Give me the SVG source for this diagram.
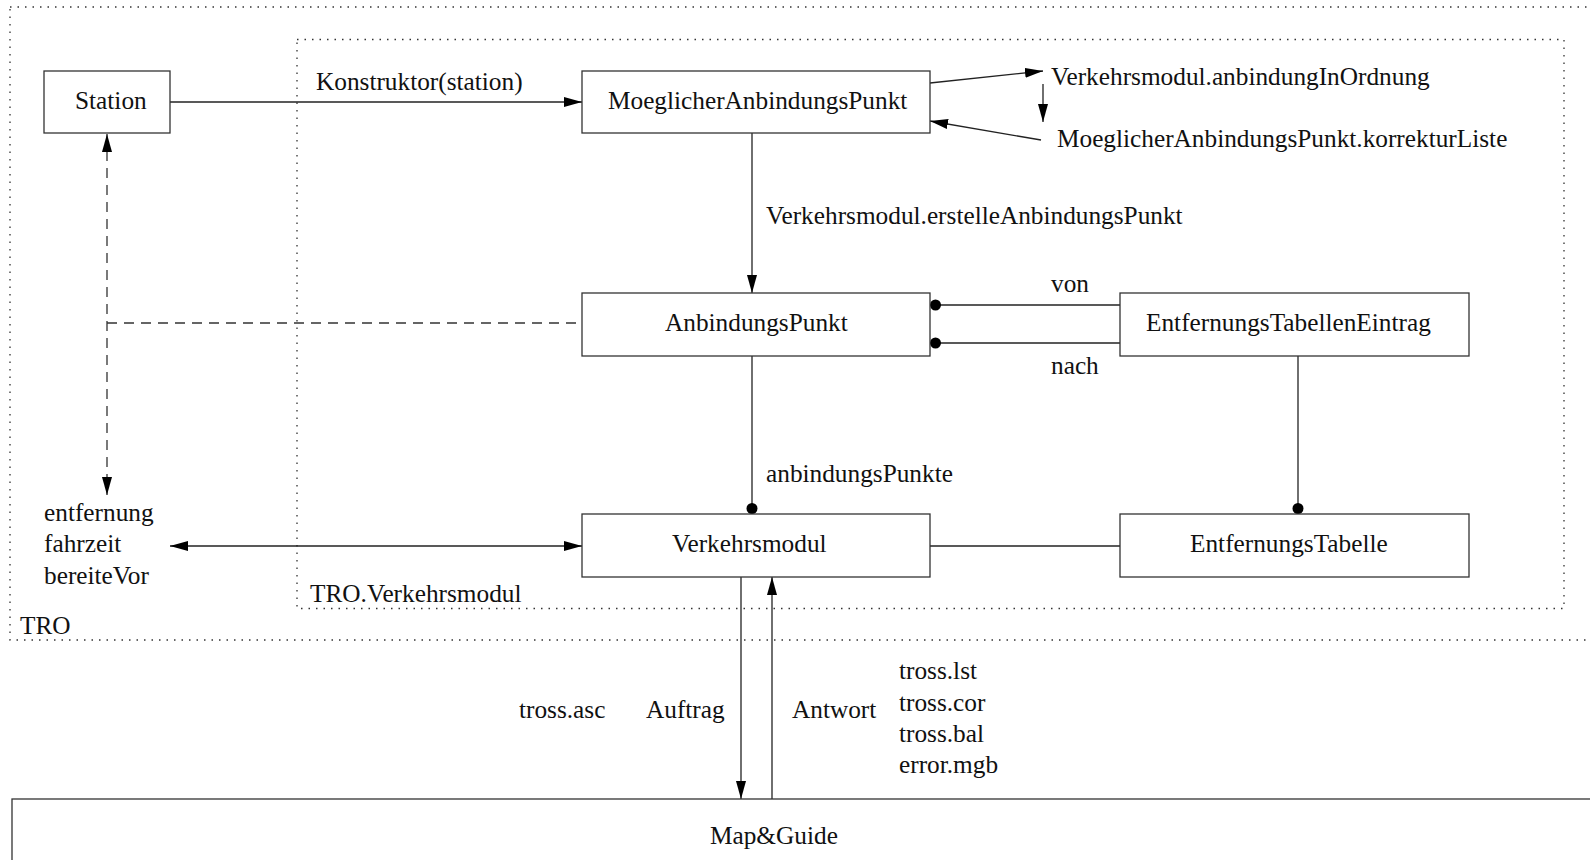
<svg xmlns="http://www.w3.org/2000/svg" width="1590" height="860" viewBox="0 0 1590 860">
<style>
text{font-family:"Liberation Serif","Times New Roman",serif;font-size:25.3px;fill:#111}
.box{fill:#fff;stroke:#333;stroke-width:1.3}
.frame{fill:none;stroke:#333;stroke-width:1.3;stroke-dasharray:1.5 6}
.ln{fill:none;stroke:#222;stroke-width:1.3}
.dash{fill:none;stroke:#333;stroke-width:1.3;stroke-dasharray:10 7}
</style>
<defs>
<marker id="arr" markerUnits="userSpaceOnUse" markerWidth="19" markerHeight="11" viewBox="0 0 19 11" refX="18" refY="5.5" orient="auto-start-reverse"><path d="M0,0.5 L18,5.5 L0,10.5 z" fill="#000"/></marker>
<marker id="dot" markerUnits="userSpaceOnUse" markerWidth="12" markerHeight="12" viewBox="0 0 12 12" refX="11.5" refY="6" orient="auto"><circle cx="6" cy="6" r="5.5" fill="#000"/></marker>
</defs>
<rect width="1590" height="860" fill="#fff"/>
<g id="frames">
<rect class="frame" x="10" y="7" width="1600" height="633"/>
<text x="20" y="634">TRO</text>
<rect class="frame" x="297" y="39.5" width="1267" height="569"/>
<text x="310" y="602">TRO.Verkehrsmodul</text>
</g>
<g id="connectors">
<line class="ln" x1="170" y1="102" x2="582" y2="102" marker-end="url(#arr)"/>
<text x="316" y="90">Konstruktor(station)</text>
<line class="ln" x1="930" y1="83" x2="1043" y2="71" marker-end="url(#arr)"/>
<line class="ln" x1="1043" y1="84" x2="1043" y2="122" marker-end="url(#arr)"/>
<line class="ln" x1="1041" y1="140" x2="930" y2="121" marker-end="url(#arr)"/>
<line class="ln" x1="752" y1="133" x2="752" y2="293" marker-end="url(#arr)"/>
<text x="766" y="224">Verkehrsmodul.erstelleAnbindungsPunkt</text>
<line class="ln" x1="752" y1="356" x2="752" y2="514" marker-end="url(#dot)"/>
<text x="766" y="482">anbindungsPunkte</text>
<line class="ln" x1="1120" y1="305" x2="930" y2="305" marker-end="url(#dot)"/>
<text x="1051" y="292">von</text>
<line class="ln" x1="1120" y1="343" x2="930" y2="343" marker-end="url(#dot)"/>
<text x="1051" y="374">nach</text>
<line class="ln" x1="1298" y1="356" x2="1298" y2="514" marker-end="url(#dot)"/>
<line class="ln" x1="930" y1="546" x2="1120" y2="546"/>
<line class="ln" x1="170" y1="546" x2="582" y2="546" marker-start="url(#arr)" marker-end="url(#arr)"/>
<line class="dash" x1="107" y1="134" x2="107" y2="495" marker-start="url(#arr)" marker-end="url(#arr)"/>
<line class="dash" x1="107" y1="323" x2="582" y2="323"/>
<line class="ln" x1="741" y1="577" x2="741" y2="799" marker-end="url(#arr)"/>
<line class="ln" x1="772" y1="799" x2="772" y2="577" marker-end="url(#arr)"/>
<text x="519" y="718">tross.asc</text>
<text x="646" y="718">Auftrag</text>
<text x="792" y="718">Antwort</text>
<text x="899" y="679">tross.lst</text>
<text x="899" y="711">tross.cor</text>
<text x="899" y="742">tross.bal</text>
<text x="899" y="773">error.mgb</text>
</g>
<g id="station"><rect class="box" x="44" y="71" width="126" height="62"/><text x="75" y="109">Station</text></g>
<g id="moeglicher"><rect class="box" x="582" y="71" width="348" height="62"/><text x="608" y="109">MoeglicherAnbindungsPunkt</text></g>
<g id="anbindungInOrdnung"><text x="1051" y="85">Verkehrsmodul.anbindungInOrdnung</text></g>
<g id="korrekturListe"><text x="1057" y="147">MoeglicherAnbindungsPunkt.korrekturListe</text></g>
<g id="anbindungspunkt"><rect class="box" x="582" y="293" width="348" height="63"/><text x="665" y="331">AnbindungsPunkt</text></g>
<g id="ete"><rect class="box" x="1120" y="293" width="349" height="63"/><text x="1146" y="331">EntfernungsTabellenEintrag</text></g>
<g id="verkehrsmodul"><rect class="box" x="582" y="514" width="348" height="63"/><text x="672" y="552">Verkehrsmodul</text></g>
<g id="et"><rect class="box" x="1120" y="514" width="349" height="63"/><text x="1190" y="552">EntfernungsTabelle</text></g>
<g id="werte"><text x="44" y="521">entfernung</text><text x="44" y="552">fahrzeit</text><text x="44" y="584">bereiteVor</text></g>
<g id="mapguide"><rect class="box" x="12" y="799" width="1600" height="100"/><text x="710" y="844">Map&amp;Guide</text></g>
</svg>
